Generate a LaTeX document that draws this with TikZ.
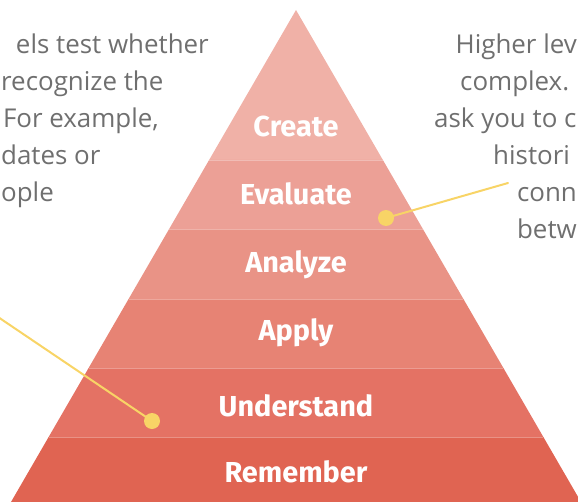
\documentclass[tikz,border=0pt]{standalone}
\usepackage{fontspec}
\setmainfont{Open Sans}
\newfontfamily\levelfont{Fira Sans}
\usetikzlibrary{positioning, calc}

\definecolor{createcol}{HTML}{F0B1A7}
\definecolor{evaluatecol}{HTML}{ECA096}
\definecolor{analyzecol}{HTML}{E99386}
\definecolor{applycol}{HTML}{E78374}
\definecolor{understandcol}{HTML}{E47264}
\definecolor{remembercol}{HTML}{E06452}
\definecolor{notegray}{HTML}{6F6F6F}
\definecolor{pointeryellow}{HTML}{F8D466}

\tikzstyle{bandline}=[white, opacity=0.3, line width=0.8bp]
\tikzstyle{level}=[font=\levelfont\bfseries\fontsize{29}{29}\selectfont, text=white, anchor=base, inner sep=0pt]
\tikzstyle{note}=[font=\fontsize{26}{26}\selectfont, text=notegray, inner sep=0pt]
\tikzstyle{pointer}=[draw=pointeryellow, line width=2bp, line cap=round]
\tikzstyle{dot}=[circle, fill=pointeryellow, minimum size=16bp, inner sep=0pt]

\begin{document}
\begin{tikzpicture}[x=1bp, y=-1bp]
    \def\cx{296} % 頂点のx
    \def\ay{10} % 頂点のy
    \def\sl{0.5793} % 辺の傾き

    \useasboundingbox (0,0) rectangle (578,502);

    % 各段の塗りつぶし
    \foreach \t/\b/\c in {10/160/createcol, 160/229/evaluatecol, 229/299/analyzecol,
                          299/368/applycol, 368/437/understandcol, 437/502/remembercol}{
      \fill[\c] ({\cx-\sl*(\t-\ay)}, \t) -- ({\cx+\sl*(\t-\ay)}, \t)
             -- ({\cx+\sl*(\b-\ay)}, \b) -- ({\cx-\sl*(\b-\ay)}, \b) -- cycle;
    }

    % 段の境界線
    \foreach \y in {160, 229, 299, 368, 437}{
      \draw[bandline] ({\cx-\sl*(\y-\ay)}, \y) -- ({\cx+\sl*(\y-\ay)}, \y);
    }

    % 段のラベル
    \node[level] (create) at (\cx,137) {Create};
    \node[level] (evaluate) at (\cx,205) {Evaluate};
    \node[level] (analyze) at (\cx,272) {Analyze};
    \node[level] (apply) at (\cx,340) {Apply};
    \node[level] (understand) at (\cx,416) {Understand};
    \node[level] (remember) at (\cx,482) {Remember};

    % 左の説明文
    \node[note, anchor=base east] (low1) at (209,54) {els test whether};
    \node[note, anchor=base west] (low2) at (1,91) {recognize the};
    \node[note, anchor=base east] (low3) at (159,128) {For example,};
    \node[note, anchor=base west] (low4) at (1,165) {dates or};
    \node[note, anchor=base west] (low5) at (1,202) {ople};

    % 右の説明文
    \node[note, anchor=base east] (high1) at (577,54) {Higher lev};
    \node[note, anchor=base west] (high2) at (460,91) {complex.};
    \node[note, anchor=base west] (high3) at (434,128) {ask you to c};
    \node[note, anchor=base west] (high4) at (493,165) {histori};
    \node[note, anchor=base east] (high5) at (577,202) {conn};
    \node[note, anchor=base east] (high6) at (577,238) {betw};

    % 引き出し線
    \coordinate (lowpt) at (152,421);
    \coordinate (highpt) at (386,218);
    \coordinate (lowend) at (-2,317);
    \coordinate (highend) at (508,183);
    \draw[pointer] (lowpt) -- (lowend);
    \draw[pointer] (highpt) -- (highend);
    \node[dot] (lowdot) at (lowpt) {};
    \node[dot] (highdot) at (highpt) {};
\end{tikzpicture}
\end{document}
